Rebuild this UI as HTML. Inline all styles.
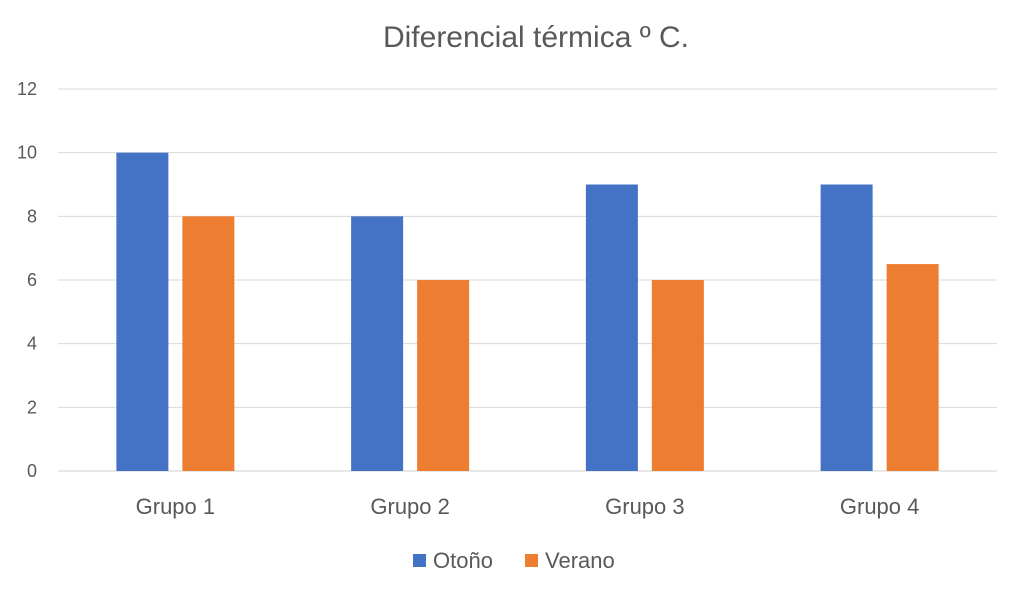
<!DOCTYPE html>
<html><head><meta charset="utf-8"><style>
body{margin:0;background:#fff;}
svg{display:block;font-family:"Liberation Sans",sans-serif;}
</style></head><body>
<svg id="chart" width="1024" height="598">
<rect width="1024" height="598" fill="#fff"/>
<text x="536" y="47" text-anchor="middle" font-size="30" fill="#595959">Diferencial térmica º C.</text>
<g id="grid"></g><g id="bars"></g><g id="labels"></g>
<g>
<rect x="413" y="554" width="13" height="13" fill="#4472C4"/>
<text x="433" y="568" font-size="22" fill="#595959">Otoño</text>
<rect x="525" y="554" width="13" height="13" fill="#ED7D31"/>
<text x="545" y="568" font-size="22" fill="#595959">Verano</text>
</g>
</svg>
<script>
const categories=["Grupo 1","Grupo 2","Grupo 3","Grupo 4"];
const otono=[10,8,9,9];
const verano=[8,6,6,6.5];
const yTicks=[0,2,4,6,8,10,12];
const NS="http://www.w3.org/2000/svg";
const x0=58,x1=997,y0=471,y1=89,yMax=12;
const y=v=>y0-(y0-y1)*v/yMax;
const band=(x1-x0)/categories.length;
const cx=i=>x0+band*(i+0.5);
function mk(tag,attrs,parent){const e=document.createElementNS(NS,tag);for(const k in attrs)e.setAttribute(k,attrs[k]);parent.appendChild(e);return e;}
const grid=document.getElementById('grid'),bars=document.getElementById('bars'),labels=document.getElementById('labels');
yTicks.forEach(t=>{
const l=mk('line',{x1:x0,x2:x1,y1:y(t),y2:y(t),stroke:t===0?'#d0d0d0':'#d9d9d9','stroke-width':1},grid);


const tx=mk('text',{x:37,y:y(t)+6,'text-anchor':'end','font-size':18,fill:'#595959'},labels);
tx.textContent=t;


});
const bw=52,gap=14;
categories.forEach((c,i)=>{
const b1=mk('rect',{x:cx(i)-gap/2-bw,y:y(otono[i]),width:bw,height:y0-y(otono[i]),fill:'#4472C4'},bars);


const b2=mk('rect',{x:cx(i)+gap/2,y:y(verano[i]),width:bw,height:y0-y(verano[i]),fill:'#ED7D31'},bars);


const t=mk('text',{x:cx(i),y:514,'text-anchor':'middle','font-size':22,fill:'#595959'},labels);
t.textContent=c;


});
</script>
</body></html>
